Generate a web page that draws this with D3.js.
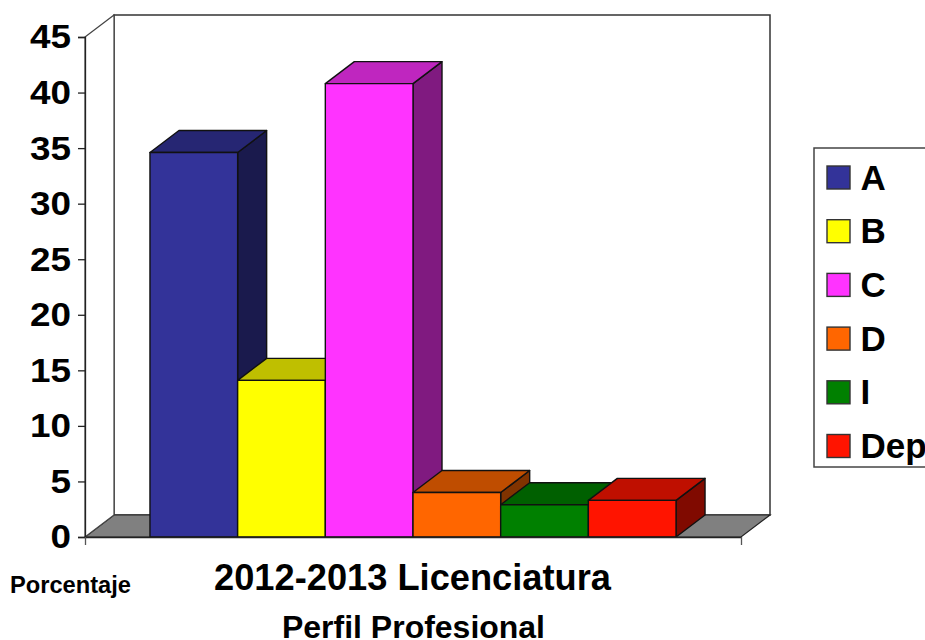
<!DOCTYPE html>
<html>
<head>
<meta charset="utf-8">
<script src="https://cdn.jsdelivr.net/npm/d3@7"></script>
<style>
  html, body { margin: 0; padding: 0; background: #fff; overflow: hidden; }
  text { font-family: "Liberation Sans", Arial, sans-serif; font-weight: bold; fill: #000; }
</style>
</head>
<body>
<svg id="chart" width="925" height="640"></svg>
<script>
const seriesNames = ['A', 'B', 'C', 'D', 'I', 'Dep'];
const seriesValues = [34.6, 14.1, 40.8, 4, 2.9, 3.3];
const frontColors = ['#333399', '#ffff00', '#ff33ff', '#ff6600', '#008000', '#ff1400'];
const topColors = ['#262673', '#bfbf00', '#bf26bf', '#bf4d00', '#006000', '#bf0f00'];
const sideColors = ['#1a1a4d', '#808000', '#801a80', '#803300', '#004000', '#800a00'];
const yTicks = [0, 5, 10, 15, 20, 25, 30, 35, 40, 45];
const categoryLabel = '2012-2013 Licenciatura';
const xTitle = 'Perfil Profesional';
const yTitle = 'Porcentaje';

const margin = { left: 85, top: 37, right: 741, bottom: 537 };
const depth = { x: 29, y: -22 };

const svg = d3.select('#chart');

const y = d3.scaleLinear().domain([0, 45]).range([margin.bottom, margin.top]);
const x = d3.scaleBand()
  .domain(seriesNames)
  .range([margin.left, margin.right])
  .paddingInner(0)
  .paddingOuter(0.741);
const xEnds = d3.scaleLinear().domain([0, 1]).range([margin.left, margin.right]);

const pts = (arr) => arr.map((p) => p.join(',')).join(' ');

// back wall and floor
svg.append('polygon')
  .attr('points', pts([
    [margin.left + depth.x, margin.top + depth.y],
    [margin.right + depth.x, margin.top + depth.y],
    [margin.right + depth.x, margin.bottom + depth.y],
    [margin.left + depth.x, margin.bottom + depth.y],
  ]))
  .attr('fill', '#fff')
  .attr('stroke', '#333')
  .attr('stroke-width', 1.5);

svg.append('polygon')
  .attr('points', pts([
    [margin.left, margin.bottom],
    [margin.left + depth.x, margin.bottom + depth.y],
    [margin.right + depth.x, margin.bottom + depth.y],
    [margin.right, margin.bottom],
  ]))
  .attr('fill', '#808080')
  .attr('stroke', '#222')
  .attr('stroke-width', 1.2);

// left side wall outline
svg.append('polygon')
  .attr('points', pts([
    [margin.left, margin.top],
    [margin.left + depth.x, margin.top + depth.y],
    [margin.left + depth.x, margin.bottom + depth.y],
    [margin.left, margin.bottom],
  ]))
  .attr('fill', '#fff')
  .attr('stroke', '#444')
  .attr('stroke-width', 1.2);

// bars, left to right so the later ones cover the earlier sides
const bars = svg.selectAll('.bar')
  .data(seriesNames)
  .enter()
  .append('g')
  .attr('class', 'bar')
  .attr('stroke', '#111')
  .attr('stroke-width', 1.4)
  .attr('stroke-linejoin', 'round');

bars.append('polygon')
  .attr('fill', (d, i) => sideColors[i])
  .attr('points', (d, i) => {
    const x1 = x(d) + x.bandwidth();
    return pts([
      [x1, y(seriesValues[i])],
      [x1 + depth.x, y(seriesValues[i]) + depth.y],
      [x1 + depth.x, y(0) + depth.y],
      [x1, y(0)],
    ]);
  });

bars.append('polygon')
  .attr('fill', (d, i) => topColors[i])
  .attr('points', (d, i) => {
    const x0 = x(d);
    const x1 = x0 + x.bandwidth();
    const t = y(seriesValues[i]);
    return pts([
      [x0, t],
      [x0 + depth.x, t + depth.y],
      [x1 + depth.x, t + depth.y],
      [x1, t],
    ]);
  });

bars.append('rect')
  .attr('x', (d) => x(d))
  .attr('y', (d, i) => y(seriesValues[i]))
  .attr('width', x.bandwidth())
  .attr('height', (d, i) => y(0) - y(seriesValues[i]))
  .attr('fill', (d, i) => frontColors[i]);

// axes
const yAxis = svg.append('g')
  .attr('transform', `translate(${margin.left},0)`)
  .call(d3.axisLeft(y).tickValues(yTicks).tickSize(7).tickPadding(7));
yAxis.selectAll('.domain').attr('stroke', '#222').attr('stroke-width', 1.3);
yAxis.selectAll('line').attr('stroke', '#222').attr('stroke-width', 1.3);
yAxis.selectAll('text')
  .style('font-family', '"Liberation Sans", Arial, sans-serif')
  .style('font-weight', 'bold')
  .style('font-size', '34px')
  .attr('textLength', (d) => String(d).length * 20.5)
  .attr('lengthAdjust', 'spacingAndGlyphs');

const xAxis = svg.append('g')
  .attr('transform', `translate(0,${margin.bottom})`)
  .call(d3.axisBottom(xEnds).tickValues([0, 1]).tickSize(8).tickSizeOuter(0).tickFormat(''));
xAxis.selectAll('.domain').attr('stroke', '#222').attr('stroke-width', 1.3);
xAxis.selectAll('line').attr('stroke', '#555').attr('stroke-width', 1.3);

// labels
svg.append('text')
  .attr('x', 214)
  .attr('y', 590)
  .attr('textLength', 397)
  .attr('lengthAdjust', 'spacingAndGlyphs')
  .style('font-size', '36px')
  .text(categoryLabel);

svg.append('text')
  .attr('x', 282)
  .attr('y', 638)
  .attr('textLength', 263)
  .attr('lengthAdjust', 'spacingAndGlyphs')
  .style('font-size', '31px')
  .text(xTitle);

svg.append('text')
  .attr('x', 10)
  .attr('y', 593)
  .attr('textLength', 121)
  .attr('lengthAdjust', 'spacingAndGlyphs')
  .style('font-size', '23px')
  .text(yTitle);

// legend
svg.append('rect')
  .attr('x', 814)
  .attr('y', 148)
  .attr('width', 130)
  .attr('height', 319)
  .attr('fill', '#fff')
  .attr('stroke', '#444')
  .attr('stroke-width', 1.5);

const legendY = d3.scalePoint().domain(seriesNames).range([177.5, 446]);

const legend = svg.selectAll('.legend-item')
  .data(seriesNames)
  .enter()
  .append('g')
  .attr('class', 'legend-item')
  .attr('transform', (d) => `translate(827,${legendY(d)})`);

legend.append('rect')
  .attr('x', 0)
  .attr('y', -11.5)
  .attr('width', 23)
  .attr('height', 23)
  .attr('fill', (d, i) => frontColors[i])
  .attr('stroke', '#333')
  .attr('stroke-width', 1.4);

legend.append('text')
  .attr('x', 33.5)
  .attr('y', 12)
  .style('font-size', '35px')
  .text((d) => d);
</script>
</body>
</html>
